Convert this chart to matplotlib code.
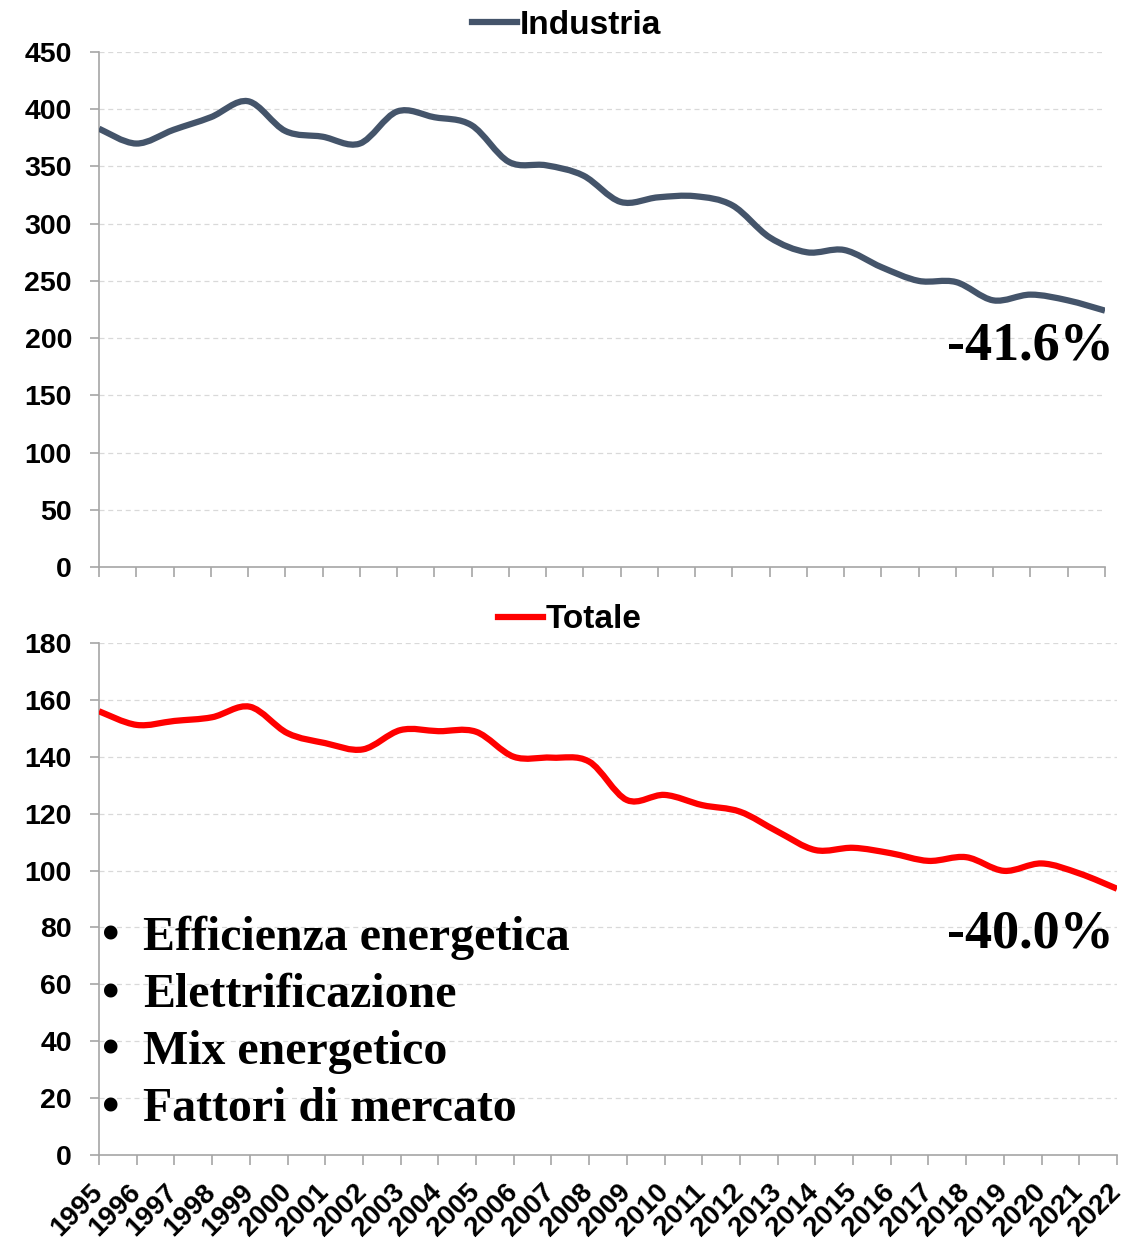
import matplotlib
matplotlib.use("Agg")
import matplotlib.pyplot as plt
from matplotlib.path import Path
from matplotlib.patches import PathPatch
from matplotlib.lines import Line2D
import matplotlib.transforms as mtransforms
import numpy as np

years = list(range(1995, 2023))
year_labels = [str(y) for y in years]
industria = [383, 370, 382, 393, 407, 381, 376, 370, 398, 393, 386, 354, 351, 342,
             319, 323, 324, 316, 288, 275, 277, 262, 250, 249, 233, 238, 233, 224]
totale = [156, 151.2, 152.6, 153.9, 157.6, 148.3, 144.8, 142.6, 149.4, 149, 148.8,
          140, 139.7, 138.3, 124.8, 126.6, 123, 120.7, 113.7, 107.2, 108, 106.1,
          103.4, 104.7, 99.9, 102.5, 99, 93.6]
bullets = ["Efficienza energetica", "Elettrificazione", "Mix energetico", "Fattori di mercato"]

plt.rcParams['font.family'] = ['Liberation Sans', 'DejaVu Sans']

W, H = 1125, 1245
fig = plt.figure(figsize=(W/100, H/100), dpi=100)
ax1 = fig.add_axes([99/W, 1-567/H, (1105-99)/W, (567-52)/H])
ax2 = fig.add_axes([99/W, 1-1155/H, (1117-99)/W, (1155-643)/H])


def smooth_path(x, y):
    x = np.asarray(x, float); y = np.asarray(y, float)
    n = len(x)
    verts = [(x[0], y[0])]
    codes = [Path.MOVETO]
    for i in range(n - 1):
        p0 = np.array([x[max(i-1, 0)], y[max(i-1, 0)]])
        p1 = np.array([x[i], y[i]])
        p2 = np.array([x[i+1], y[i+1]])
        p3 = np.array([x[min(i+2, n-1)], y[min(i+2, n-1)]])
        c1 = p1 + (p2 - p0) / 6.0
        c2 = p2 - (p3 - p1) / 6.0
        verts += [tuple(c1), tuple(c2), tuple(p2)]
        codes += [Path.CURVE4] * 3
    return Path(verts, codes)


def style(ax, ymax, ystep, color, values, label, show_x, leg_xy):
    xs = np.arange(len(values))
    patch = PathPatch(smooth_path(xs, values), fill=False, edgecolor=color,
                      lw=4.5, capstyle='butt', joinstyle='round', zorder=3)
    ax.add_patch(patch)
    ax.set_xlim(0, len(values) - 1)
    ax.set_ylim(0, ymax)
    ax.set_yticks(np.arange(0, ymax + 1, ystep))
    ax.set_xticks(xs)
    ax.set_xticklabels([])
    if show_x:
        off = mtransforms.ScaledTranslation(-22/100, -55/100, fig.dpi_scale_trans)
        tr = ax.get_xaxis_transform() + off
        for xi, lab in zip(xs, year_labels):
            ax.text(xi, 0, lab, transform=tr, rotation=45, ha='center',
                    va='center', rotation_mode='anchor', fontsize=20,
                    fontweight='bold', clip_on=False)
    for lab in ax.get_yticklabels():
        lab.set_fontweight('bold')
        lab.set_fontsize(20.5)
    ax.grid(axis='y', color='#d9d9d9', linestyle=(0, (4, 3)), lw=0.9)
    ax.set_axisbelow(True)
    for s in ['top', 'right']:
        ax.spines[s].set_visible(False)
    for s in ['left', 'bottom']:
        ax.spines[s].set_color('#a6a6a6')
        ax.spines[s].set_linewidth(1.2)
    ax.tick_params(axis='y', length=6.5, width=1.2, color='#a6a6a6', pad=13)
    ax.tick_params(axis='x', length=7, width=1.2, color='#a6a6a6', pad=4)
    h = Line2D([], [], color=color, lw=4.5)
    fig.legend([h], [label], loc='center',
               bbox_to_anchor=(leg_xy[0]/W, 1-leg_xy[1]/H),
               frameon=False, prop={'weight': 'bold', 'size': 24},
               handlelength=1.35, handletextpad=0.08, borderaxespad=0.0,
               borderpad=0.0)

style(ax1, 450, 50, '#44546A', industria, 'Industria', False, (567, 25))
style(ax2, 180, 20, '#FF0000', totale, 'Totale', True, (570, 620))

serif = ['Liberation Serif', 'DejaVu Serif']
fig.text(1114/W, 1-347/H, "-41.6%", ha='right', va='center', fontsize=39,
         fontweight='bold', family=serif)
fig.text(1114/W, 1-934/H, "-40.0%", ha='right', va='center', fontsize=39,
         fontweight='bold', family=serif)

for i, b in enumerate(bullets):
    y = 1 - (950 + i*57)/H
    fig.text(102/W, y, "\u2022", ha='left', va='baseline', fontsize=36,
             fontweight='bold', family=serif)
    fig.text(143/W, y, b, ha='left', va='baseline', fontsize=34.5,
             fontweight='bold', family=serif)

fig.savefig('out.png', dpi=100)
